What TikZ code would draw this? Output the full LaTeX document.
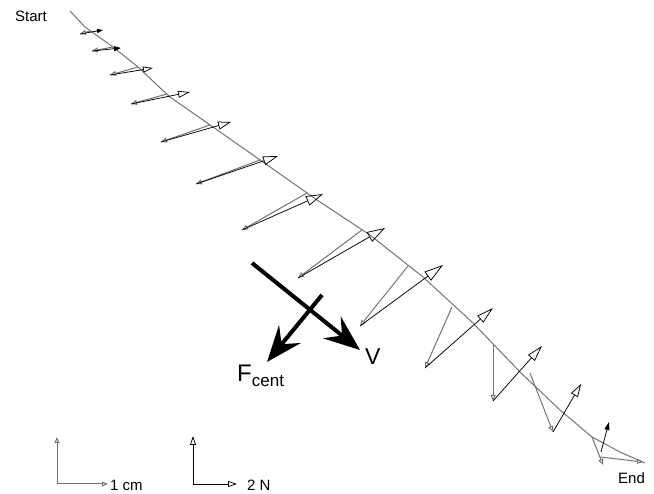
\documentclass[tikz,border=0pt]{standalone}
\usepackage{fontspec}
\setmainfont{Liberation Sans}
\usetikzlibrary{arrows.meta}
\definecolor{dithergray}{gray}{0.45}
\begin{document}
\begin{tikzpicture}[x=1pt,y=-1pt,
  traj/.style={draw=dithergray, line width=1pt, line join=round},
  disp/.style={draw=dithergray, line width=1pt, -{Triangle[open,length=6pt,width=5pt]}},
  force/.style={draw=black, line width=0.75pt},
  bigarrow/.style={line width=4pt, -{Stealth[length=36pt,width=28pt,inset=13pt]}},
  lab/.style={font=\fontsize{15}{15}\selectfont, inner sep=0pt, anchor=base west}
]
\useasboundingbox (0,0) rectangle (654,494);

% trajectory
\draw[traj] (70,11) -- (85,27) -- (113,47) -- (138,67) -- (157,85) -- (170,97)
  -- (213,127) -- (263,162) -- (317,200) -- (370,235) -- (423,277) -- (473,323)
  -- (520,372) -- (560,410) -- (592,437) -- (620,452) -- (645,463);

% points: t = on trajectory, p = tail, h = head
\coordinate (t1) at (90,31);   \coordinate (p1) at (80,34);   \coordinate (h1) at (103,30);
\coordinate (t2) at (113,47);  \coordinate (p2) at (92,51);   \coordinate (h2) at (121,48);
\coordinate (t3) at (138,67);  \coordinate (p3) at (110,75);  \coordinate (h3) at (153,68);
\coordinate (t4) at (167,94);  \coordinate (p4) at (131,104); \coordinate (h4) at (190,92);
\coordinate (t5) at (210,125); \coordinate (p5) at (161,142); \coordinate (h5) at (231,122);
\coordinate (t6) at (260,160); \coordinate (p6) at (196,184); \coordinate (h6) at (278,156);
\coordinate (t7) at (307,193); \coordinate (p7) at (242,230); \coordinate (h7) at (323,194);
\coordinate (t8) at (362,230); \coordinate (p8) at (298,278); \coordinate (h8) at (385,228);
\coordinate (t9) at (408,266); \coordinate (p9) at (360,326); \coordinate (h9) at (443,265);
\coordinate (t10) at (452,307); \coordinate (p10) at (425,368); \coordinate (h10) at (493,308);
\coordinate (t11) at (493,345); \coordinate (p11) at (493,401); \coordinate (h11) at (542,346);
\coordinate (t12) at (530,373); \coordinate (p12) at (553,432); \coordinate (h12) at (581,384);
\coordinate (t13) at (592,437); \coordinate (p13) at (603,465); \coordinate (h13) at (609,422);
\coordinate (q13) at (601,452);
\coordinate (t14) at (600,457); \coordinate (p14) at (643,462);

% displacement (grey) arrows
\foreach \i in {1,...,12} { \draw[disp] (t\i) -- (p\i); }
\draw[disp] (t13) -- (p13);
\draw[disp] (t14) -- (p14);

% force (black) arrows
\draw[force, -{Triangle[length=6pt,width=4pt]}] (p1) -- (h1);
\draw[force, -{Triangle[length=7pt,width=5pt]}] (p2) -- (h2);
\draw[force, -{Triangle[open,length=10pt,width=6pt]}] (p3) -- (h3);
\draw[force, -{Triangle[open,length=12pt,width=7pt]}] (p4) -- (h4);
\draw[force, -{Triangle[open,length=13pt,width=8pt]}] (p5) -- (h5);
\draw[force, -{Triangle[open,length=15pt,width=9pt]}] (p6) -- (h6);
\draw[force, -{Triangle[open,length=17pt,width=10pt]}] (p7) -- (h7);
\draw[force, -{Triangle[open,length=18pt,width=11pt]}] (p8) -- (h8);
\draw[force, -{Triangle[open,length=19pt,width=11pt]}] (p9) -- (h9);
\draw[force, -{Triangle[open,length=17pt,width=9pt]}] (p10) -- (h10);
\draw[force, -{Triangle[open,length=16pt,width=9pt]}] (p11) -- (h11);
\draw[force, -{Triangle[open,length=13pt,width=8pt]}] (p12) -- (h12);
\draw[force, -{Triangle[length=8pt,width=5pt]}] (q13) -- (h13);

% big arrows V and F_cent
\coordinate (v0) at (252,263); \coordinate (v1) at (360,350);
\coordinate (f0) at (322,295); \coordinate (f1) at (267,362);
\draw[bigarrow] (v0) -- (v1);
\draw[bigarrow] (f0) -- (f1);
\node[inner sep=0pt, anchor=base west, font=\fontsize{23}{23}\selectfont] (vlab) at (365,365) {V};
\node[inner sep=0pt, anchor=base west] (flab) at (237,382)
  {{\fontsize{24}{24}\selectfont F}{\fontsize{17}{17}\selectfont\raisebox{-5pt}{cent}}};

% labels
\node[lab] (start) at (15,22) {Start};
\node[lab] (end) at (618,483) {End};

% scale bars
\coordinate (g0) at (57,484); \coordinate (gv) at (57,437); \coordinate (gh) at (108,484);
\draw[disp] (g0) -- (gv);
\draw[disp] (g0) -- (gh);
\node[lab] (cm) at (110,490) {1 cm};
\coordinate (b0) at (193,484); \coordinate (bv) at (193,436); \coordinate (bh) at (237,484);
\draw[force, -{Triangle[open,length=9pt,width=6pt]}] (b0) -- (bv);
\draw[force, -{Triangle[open,length=9pt,width=6pt]}] (b0) -- (bh);
\node[lab] (newton) at (247,490) {2 N};
\end{tikzpicture}
\end{document}
